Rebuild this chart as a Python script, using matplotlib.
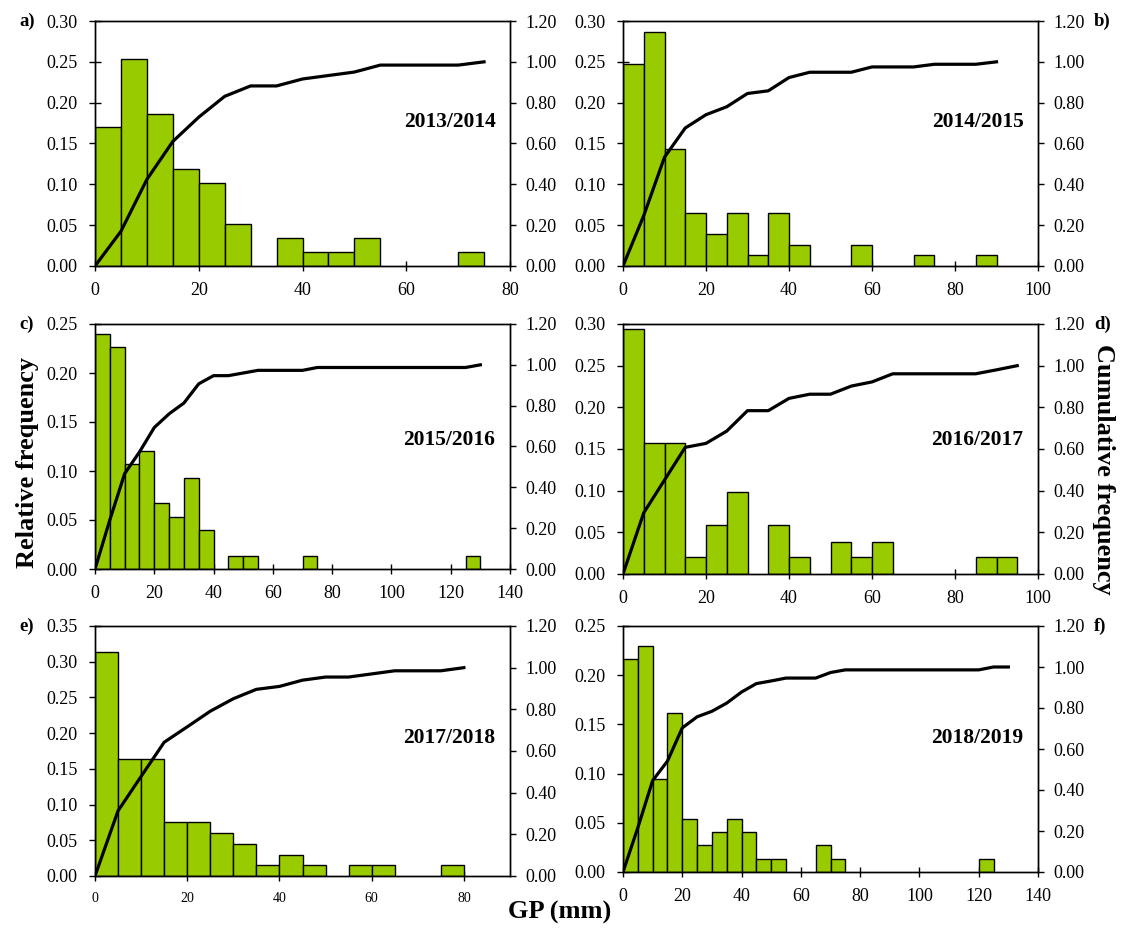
import numpy as np
import matplotlib
matplotlib.use("Agg")
import matplotlib.pyplot as plt
from matplotlib.ticker import FormatStrFormatter, MultipleLocator

plt.rcParams['font.family'] = ['Liberation Serif', 'DejaVu Serif']

BIN = 5  # mm class width

# Relative frequency per 5 mm class, starting at 0 mm
rel_2013 = [0.170, 0.254, 0.186, 0.119, 0.102, 0.051, 0.0, 0.034, 0.017, 0.017,
            0.034, 0.0, 0.0, 0.0, 0.017]
rel_2014 = [0.247, 0.286, 0.143, 0.065, 0.039, 0.065, 0.013, 0.065, 0.026, 0.0,
            0.0, 0.026, 0.0, 0.0, 0.013, 0.0, 0.0, 0.013]
rel_2015 = [0.240, 0.227, 0.107, 0.120, 0.067, 0.053, 0.093, 0.040, 0.0, 0.013,
            0.013, 0.0, 0.0, 0.0, 0.013, 0.0, 0.0, 0.0, 0.0, 0.0,
            0.0, 0.0, 0.0, 0.0, 0.0, 0.013]
rel_2016 = [0.294, 0.157, 0.157, 0.020, 0.059, 0.098, 0.0, 0.059, 0.020, 0.0,
            0.039, 0.020, 0.039, 0.0, 0.0, 0.0, 0.0, 0.020, 0.020]
rel_2017 = [0.313, 0.164, 0.164, 0.075, 0.075, 0.060, 0.045, 0.015, 0.030, 0.015,
            0.0, 0.015, 0.015, 0.0, 0.0, 0.015]
rel_2018 = [0.216, 0.230, 0.095, 0.162, 0.054, 0.027, 0.041, 0.054, 0.041, 0.0135,
            0.0135, 0.0, 0.0, 0.027, 0.0135, 0.0, 0.0, 0.0, 0.0, 0.0,
            0.0, 0.0, 0.0, 0.0, 0.0135]

# Cumulative frequency at each class upper limit (first point at 0 mm)
cum_2013 = [0.0, 0.17, 0.424, 0.61, 0.729, 0.831, 0.882, 0.882, 0.916, 0.933,
            0.95, 0.984, 0.984, 0.984, 0.984, 1.0]
cum_2014 = [0.0, 0.247, 0.533, 0.676, 0.741, 0.78, 0.845, 0.858, 0.923, 0.949,
            0.949, 0.949, 0.975, 0.975, 0.975, 0.988, 0.988, 0.988, 1.0]
cum_2015 = [0.0, 0.24, 0.467, 0.573, 0.693, 0.76, 0.813, 0.907, 0.947, 0.947,
            0.96, 0.973, 0.973, 0.973, 0.973, 0.987, 0.987, 0.987, 0.987, 0.987,
            0.987, 0.987, 0.987, 0.987, 0.987, 0.987, 1.0]
cum_2016 = [0.0, 0.294, 0.451, 0.608, 0.627, 0.686, 0.784, 0.784, 0.843, 0.863,
            0.863, 0.902, 0.922, 0.961, 0.961, 0.961, 0.961, 0.961, 0.98, 1.0]
cum_2017 = [0.0, 0.313, 0.478, 0.642, 0.716, 0.791, 0.851, 0.896, 0.910, 0.940,
            0.955, 0.955, 0.970, 0.985, 0.985, 0.985, 1.0]
cum_2018 = [0.0, 0.216, 0.446, 0.541, 0.703, 0.757, 0.784, 0.824, 0.878, 0.919,
            0.932, 0.946, 0.946, 0.946, 0.973, 0.986, 0.986, 0.986, 0.986, 0.986,
            0.986, 0.986, 0.986, 0.986, 0.986, 1.0, 1.0]

seasons = ["2013/2014", "2014/2015", "2015/2016", "2016/2017", "2017/2018", "2018/2019"]
panel_tags = ["a)", "b)", "c)", "d)", "e)", "f)"]
rel_list = [rel_2013, rel_2014, rel_2015, rel_2016, rel_2017, rel_2018]
cum_list = [cum_2013, cum_2014, cum_2015, cum_2016, cum_2017, cum_2018]

x_max = [80, 100, 140, 100, 90, 140]
x_step = [20, 20, 20, 20, 20, 20]
y_max = [0.30, 0.30, 0.25, 0.30, 0.35, 0.25]

W, H = 1128, 931
# axes boxes in pixels: left, right, top, bottom
boxes = [(95, 510, 21, 266), (623, 1038, 21, 266),
         (95, 510, 324, 569), (623, 1038, 324, 574),
         (95, 510, 626, 876), (623, 1038, 626, 872)]
label_y = [0.588, 0.588, 0.527, 0.536, 0.552, 0.545]

fig = plt.figure(figsize=(W / 100, H / 100), dpi=100)

for i in range(6):
    l, r, t, b = boxes[i]
    ax = fig.add_axes([l / W, 1 - b / H, (r - l) / W, (b - t) / H])
    rel = np.array(rel_list[i])
    edges = np.arange(len(rel)) * BIN
    nz = rel > 0
    ax.bar(edges[nz], rel[nz], width=BIN, align='edge', color='#99CC00',
           edgecolor='black', linewidth=1.0, zorder=2)
    ax.set_xlim(0, x_max[i])
    ax.set_ylim(0, y_max[i])
    xt = np.arange(0, x_max[i] + 0.1, x_step[i])
    if i == 4:
        xt = xt[xt <= 80]
    ax.set_xticks(xt)
    ax.yaxis.set_major_locator(MultipleLocator(0.05))
    ax.yaxis.set_major_formatter(FormatStrFormatter('%.2f'))
    ax.tick_params(axis='y', direction='inout', length=9, width=1, labelsize=13, pad=8)
    ax.tick_params(axis='x', direction='inout', length=7, width=1,
                   labelsize=10 if i == 4 else 13, pad=8)
    for s in ax.spines.values():
        s.set_linewidth(1.0)

    ax2 = ax.twinx()
    cum = np.array(cum_list[i])
    xc = np.arange(len(cum)) * BIN
    ax2.plot(xc, cum, color='black', linewidth=2.3, solid_joinstyle='round')
    ax2.set_ylim(0, 1.2)
    ax2.yaxis.set_major_locator(MultipleLocator(0.2))
    ax2.yaxis.set_major_formatter(FormatStrFormatter('%.2f'))
    ax2.tick_params(axis='y', direction='out', length=4.5, width=1, labelsize=13, pad=6.5)
    for s in ax2.spines.values():
        s.set_linewidth(1.0)

    ax2.text(0.965, label_y[i], seasons[i], transform=ax.transAxes, ha='right',
             va='center', fontsize=15.5, fontweight='bold')

    # panel tag
    if i % 2 == 0:
        fig.text(19 / W, 1 - (t - 8) / H, panel_tags[i], ha='left', va='top',
                 fontsize=13.5, fontweight='bold')
    else:
        fig.text(1094 / W, 1 - (t - 8) / H, panel_tags[i], ha='left', va='top',
                 fontsize=13.5, fontweight='bold')

fig.text(28 / W, 1 - 462 / H, "Relative frequency", rotation=90, ha='center',
         va='center', fontsize=19, fontweight='bold')
fig.text(1104 / W, 1 - 469 / H, "Cumulative frequency", rotation=270, ha='center',
         va='center', fontsize=19, fontweight='bold')
fig.text(560 / W, 1 - 912 / H, "GP (mm)", ha='center', va='center',
         fontsize=19, fontweight='bold')

fig.savefig("out.png", dpi=100)
